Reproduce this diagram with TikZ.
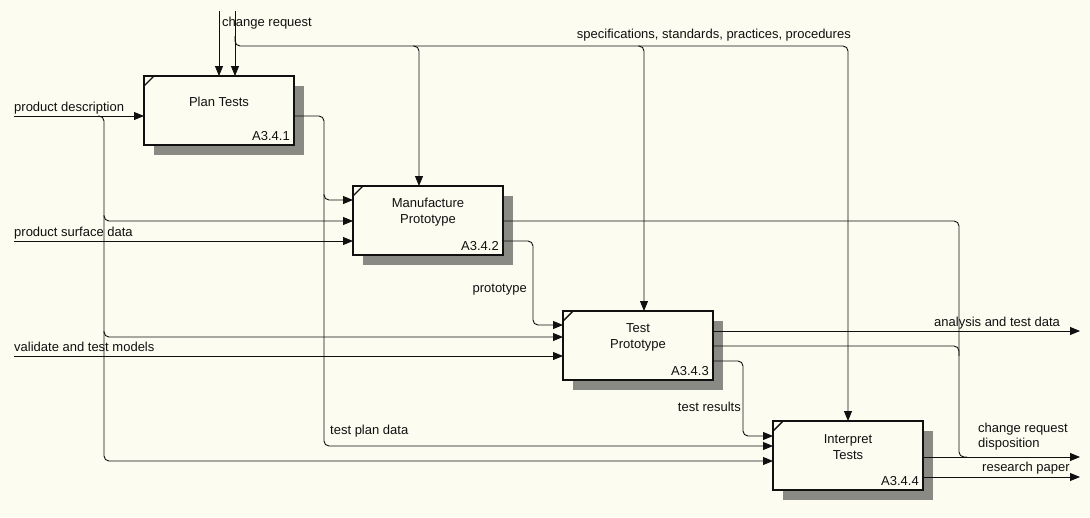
\documentclass[tikz,border=0pt]{standalone}
\usepackage{fontspec}
\setmainfont{Liberation Sans}
\usetikzlibrary{arrows.meta,calc}
\definecolor{paper}{RGB}{252,252,240}
\definecolor{ink}{RGB}{16,16,16}
\definecolor{shadowgray}{RGB}{138,138,132}
\pgfdeclarelayer{bglayer}
\pgfdeclarelayer{shadowlayer}
\pgfsetlayers{bglayer,shadowlayer,main}

\begin{document}
\begin{tikzpicture}[x=1pt,y=-1pt,
  font=\fontsize{13}{15}\selectfont,
  activity/.style={draw=ink, line width=2.2pt, fill=paper,
    minimum width=150pt, minimum height=69pt, inner sep=0pt, outer sep=0pt},
  flow/.style={draw=ink, line width=0.9pt, -{Triangle[length=10pt,width=8pt]}},
  link/.style={draw=ink, line width=0.9pt},
  roundbend/.style={rounded corners=5pt},
  lbl/.style={text=ink, inner sep=0pt},
  title/.style={text=ink, inner sep=0pt, anchor=base},
  boxid/.style={text=ink, inner sep=0pt, anchor=base east}]

\useasboundingbox (0,0) rectangle (1090,517);
\begin{pgfonlayer}{bglayer}
  \fill[paper] (0,0) rectangle (1090,517);
\end{pgfonlayer}

% activity boxes
\node[activity] (p1) at (219,110.5) {};
\node[activity] (p2) at (428,220.5) {};
\node[activity] (p3) at (638,345.5) {};
\node[activity] (p4) at (848,455.5) {};

% drop shadows and corner ticks
\begin{pgfonlayer}{shadowlayer}
  \foreach \b in {p1,p2,p3,p4}
    \fill[shadowgray] ($(\b.north west)+(10,10)$) rectangle ($(\b.south east)+(10,10)$);
\end{pgfonlayer}
\foreach \b in {p1,p2,p3,p4}
  \draw[ink, line width=1.4pt] ($(\b.north west)+(0,10)$) -- ($(\b.north west)+(10,0)$);

% box texts
\node[title] (p1t) at ($(p1.north)+(0,30)$) {Plan Tests};
\node[boxid] (p1n) at ($(p1.south east)+(-4,-5)$) {A3.4.1};
\node[title] (p2t) at ($(p2.north)+(0,21)$) {Manufacture};
\node[title] (p2u) at ($(p2.north)+(0,37)$) {Prototype};
\node[boxid] (p2n) at ($(p2.south east)+(-4,-5)$) {A3.4.2};
\node[title] (p3t) at ($(p3.north)+(0,21.5)$) {Test};
\node[title] (p3u) at ($(p3.north)+(0,37.5)$) {Prototype};
\node[boxid] (p3n) at ($(p3.south east)+(-4,-5)$) {A3.4.3};
\node[title] (p4t) at ($(p4.north)+(0,22)$) {Interpret};
\node[title] (p4u) at ($(p4.north)+(0,38)$) {Tests};
\node[boxid] (p4n) at ($(p4.south east)+(-4,-5)$) {A3.4.4};

% ports
\coordinate (p1i1) at ($(p1.north west)+(0,40)$);
\coordinate (p1c1) at ($(p1.north west)+(75,0)$);
\coordinate (p1c2) at ($(p1.north west)+(91,0)$);
\coordinate (p1o1) at ($(p1.north east)+(0,40)$);

\coordinate (p2i1) at ($(p2.north west)+(0,14)$);
\coordinate (p2i2) at ($(p2.north west)+(0,35)$);
\coordinate (p2i3) at ($(p2.north west)+(0,55)$);
\coordinate (p2c1) at ($(p2.north west)+(66,0)$);
\coordinate (p2o1) at ($(p2.north east)+(0,35)$);
\coordinate (p2o2) at ($(p2.north east)+(0,55)$);

\coordinate (p3i1) at ($(p3.north west)+(0,14)$);
\coordinate (p3i2) at ($(p3.north west)+(0,26)$);
\coordinate (p3i3) at ($(p3.north west)+(0,45)$);
\coordinate (p3c1) at ($(p3.north west)+(81,0)$);
\coordinate (p3o1) at ($(p3.north east)+(0,20)$);
\coordinate (p3o2) at ($(p3.north east)+(0,35)$);
\coordinate (p3o3) at ($(p3.north east)+(0,50)$);

\coordinate (p4i1) at ($(p4.north west)+(0,15)$);
\coordinate (p4i2) at ($(p4.north west)+(0,25)$);
\coordinate (p4i3) at ($(p4.north west)+(0,40)$);
\coordinate (p4c1) at ($(p4.north west)+(75,0)$);
\coordinate (p4o1) at ($(p4.north east)+(0,36)$);
\coordinate (p4o2) at ($(p4.north east)+(0,56)$);

% free ends and routing columns
\coordinate (crtop1) at (219,11);
\coordinate (crtop2) at (235,11);
\coordinate (spec) at (235,36);
\coordinate (specrow) at (0,46);
\coordinate (pdsrc) at (14,116);
\coordinate (psdsrc) at (14,241);
\coordinate (vtmsrc) at (14,356);
\coordinate (pdcol) at (104,0);
\coordinate (tpcol) at (324,0);
\coordinate (protocol) at (533,0);
\coordinate (trcol) at (743,0);
\coordinate (dispcol) at (959,0);
\coordinate (rightend) at (1080,0);

% controls
\draw[flow] (crtop1) -- (p1c1);
\draw[flow] (crtop2) -- (p1c2);
\draw[flow, roundbend] (spec) |- (p4c1 |- specrow) -- (p4c1);
\draw[flow, roundbend] ($(p2c1 |- specrow)+(-6,0)$) -| (p2c1);
\draw[flow, roundbend] ($(p3c1 |- specrow)+(-6,0)$) -| (p3c1);

% external inputs
\draw[flow] (pdsrc) -- (p1i1);
\draw[flow, roundbend] ($(pdsrc)+(84,0)$) -| (pdcol |- p4i3) -- (p4i3);
\draw[flow, roundbend] ($(pdcol |- p2i2)+(0,-6)$) |- (p2i2);
\draw[flow, roundbend] ($(pdcol |- p3i2)+(0,-6)$) |- (p3i2);
\draw[flow] (psdsrc) -- (p2i3);
\draw[flow] (vtmsrc) -- (p3i3);

% test plan data
\draw[flow, roundbend] (p1o1) -| (tpcol |- p4i2) -- (p4i2);
\draw[flow, roundbend] ($(tpcol |- p2i1)+(0,-6)$) |- (p2i1);

% prototype
\draw[flow, roundbend] (p2o2) -| (protocol |- p3i1) -- (p3i1);

% test results
\draw[flow, roundbend] (p3o3) -| (trcol |- p4i1) -- (p4i1);

% change request disposition
\draw[link, roundbend] (p2o1) -| (dispcol |- p4o1) -- ++(8,0);
\draw[link, roundbend] (p3o2) -| ($(dispcol |- p3o2)+(0,10)$);
\draw[flow] (p4o1) -- (p4o1 -| rightend);

% remaining outputs
\draw[flow] (p3o1) -- (p3o1 -| rightend);
\draw[flow] (p4o2) -- (p4o2 -| rightend);

% arrow labels
\node[lbl, anchor=base west] (lcr) at (222,26) {change request};
\node[lbl, anchor=base east] (lspec) at (851,38) {specifications, standards, practices, procedures};
\node[lbl, anchor=base west] (lpd) at (14,111) {product description};
\node[lbl, anchor=base west] (lpsd) at (14,236) {product surface data};
\node[lbl, anchor=base west] (lvtm) at (14,351) {validate and test models};
\node[lbl, anchor=base west] (ltpd) at (330,434) {test plan data};
\node[lbl, anchor=base east] (lproto) at (527,292) {prototype};
\node[lbl, anchor=base west] (latd) at (934,326) {analysis and test data};
\node[lbl, anchor=base east] (ltr) at (741,411) {test results};
\node[lbl, anchor=base west] (lcrd1) at (978,432) {change request};
\node[lbl, anchor=base west] (lcrd2) at (978,447) {disposition};
\node[lbl, anchor=base west] (lrp) at (982,471) {research paper};
\end{tikzpicture}
\end{document}
